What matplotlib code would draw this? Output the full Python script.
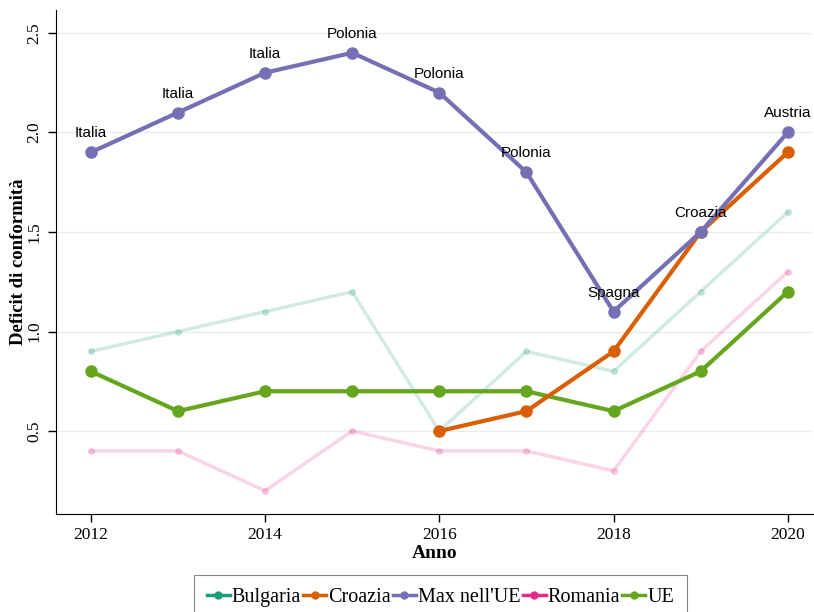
"""Deficit di conformita: line chart by year."""

import matplotlib
matplotlib.use("Agg")
import matplotlib.pyplot as plt

years = [2012, 2013, 2014, 2015, 2016, 2017, 2018, 2019, 2020]
bulgaria = [0.9, 1.0, 1.1, 1.2, 0.5, 0.9, 0.8, 1.2, 1.6]
croazia_years = [2016, 2017, 2018, 2019, 2020]
croazia = [0.5, 0.6, 0.9, 1.5, 1.9]
max_ue = [1.9, 2.1, 2.3, 2.4, 2.2, 1.8, 1.1, 1.5, 2.0]
max_labels = ["Italia", "Italia", "Italia", "Polonia", "Polonia", "Polonia",
              "Spagna", "Croazia", "Austria"]
romania = [0.4, 0.4, 0.2, 0.5, 0.4, 0.4, 0.3, 0.9, 1.3]
ue = [0.8, 0.6, 0.7, 0.7, 0.7, 0.7, 0.6, 0.8, 1.2]

SERIF = ["Liberation Serif", "DejaVu Serif"]
SANS = ["Liberation Sans", "DejaVu Sans"]

fig = plt.figure(figsize=(8.14, 6.12), dpi=100)
ax = fig.add_axes([0.0688, 0.160, 0.930, 0.824])

ax.plot(years, bulgaria, color="#1b9e77", alpha=0.2, lw=2.5, marker="o", ms=4)
ax.plot(years, romania, color="#e7298a", alpha=0.2, lw=2.5, marker="o", ms=4)
ax.plot(years, ue, color="#66a61e", lw=3, marker="o", ms=8)
ax.plot(croazia_years, croazia, color="#d95f02", lw=3, marker="o", ms=8)
ax.plot(years, max_ue, color="#7570b3", lw=3, marker="o", ms=8)

for x, y, lab in zip(years, max_ue, max_labels):
    ax.text(x, y + 0.06, lab, ha="center", va="bottom", fontsize=11,
            family=SANS, color="black")

ax.set_xlim(2011.6, 2020.29)
ax.set_ylim(0.083, 2.616)
ax.set_xticks([2012, 2014, 2016, 2018, 2020])
ax.set_yticks([0.5, 1.0, 1.5, 2.0, 2.5])
ax.set_yticklabels(["0.5", "1.0", "1.5", "2.0", "2.5"], rotation=90, va="center")
for lab in ax.get_xticklabels() + ax.get_yticklabels():
    lab.set_family(SERIF)
    lab.set_fontsize(12.5)
ax.tick_params(length=6, width=1)
ax.tick_params(axis="y", pad=4)

ax.yaxis.grid(True, color="#e8eeee", lw=1)
ax.set_axisbelow(True)
for s in ["top", "right"]:
    ax.spines[s].set_visible(False)

ax.set_xlabel("Anno", family=SERIF, fontsize=14, fontweight="bold", labelpad=1)
ax.set_ylabel("Deficit di conformità", family=SERIF, fontsize=13.5,
              fontweight="bold")
ax.yaxis.set_label_coords(-0.038, 0.5)

handles = []
for name, col in [("Bulgaria", "#1b9e77"), ("Croazia", "#d95f02"),
                  ("Max nell'UE", "#7570b3"), ("Romania", "#e7298a"),
                  ("UE", "#66a61e")]:
    h, = ax.plot([], [], color=col, lw=2.5, marker="o", ms=5, label=name)
    handles.append(h)
leg = fig.legend(handles=handles, loc="lower center", bbox_to_anchor=(0.541, -0.03),
                 ncol=5, frameon=True, fancybox=False, handlelength=1.15,
                 handletextpad=0.1, columnspacing=0.1, borderpad=0.65,
                 prop={"family": SERIF, "size": 14.5})
leg.get_frame().set_edgecolor("#666666")
leg.get_frame().set_linewidth(0.8)

fig.savefig("out.png", dpi=100)
